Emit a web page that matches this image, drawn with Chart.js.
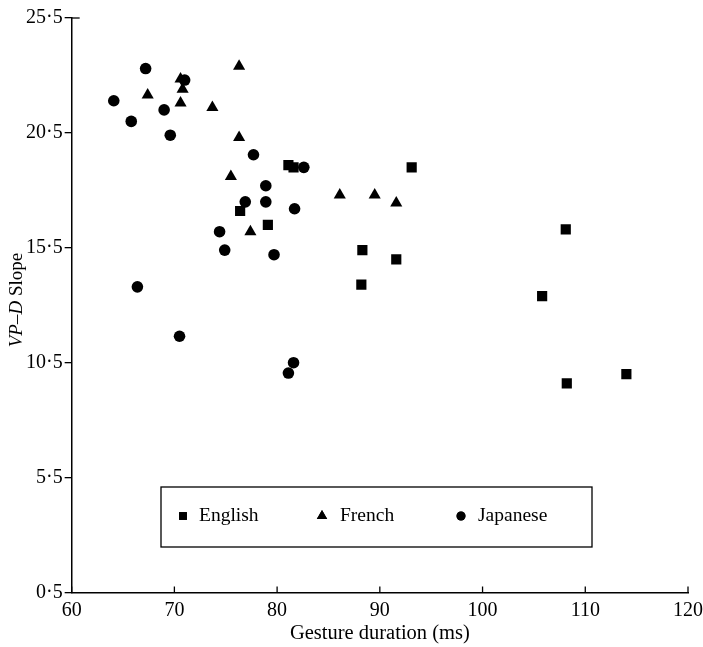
<!DOCTYPE html>
<html>
<head>
<meta charset="utf-8">
<script src="https://cdn.jsdelivr.net/npm/chart.js@4/dist/chart.umd.min.js"></script>
<style>
  body { margin: 0; background: #fff; }
  #wrap { width: 703px; height: 647px; position: relative; }
</style>
</head>
<body>
<div id="wrap"><canvas id="slopeChart"></canvas></div>
<script>
// values
const englishX = [76.4, 79.1, 81.1, 81.6, 93.1, 88.3, 91.6, 88.2, 105.8, 108.1, 108.2, 114.0];
const englishY = [17.1, 16.5, 19.1, 19.0, 19.0, 15.4, 15.0, 13.9, 13.4, 16.3, 9.6, 10.0];

const frenchX = [67.4, 70.6, 70.8, 70.6, 73.7, 76.3, 76.3, 75.5, 77.4, 86.1, 89.5, 91.6];
const frenchY = [22.15, 22.85, 22.4, 21.8, 21.6, 23.4, 20.3, 18.6, 16.2, 17.8, 17.8, 17.45];

const japaneseX = [64.1, 67.2, 65.8, 69.0, 69.6, 71.0, 77.7, 78.9, 76.9, 78.9, 81.7, 82.6, 74.4, 74.9, 79.7, 66.4, 70.5, 81.6, 81.1];
const japaneseY = [21.9, 23.3, 21.0, 21.5, 20.4, 22.8, 19.55, 18.2, 17.5, 17.5, 17.2, 19.0, 16.2, 15.4, 15.2, 13.8, 11.65, 10.5, 10.05];

const xTicks = [60, 70, 80, 90, 100, 110, 120];
const yTicks = [0.5, 5.5, 10.5, 15.5, 20.5, 25.5];

const serif = "'Liberation Serif', 'DejaVu Serif', serif";

function toPoints(xs, ys) {
    return xs.map((x, i) => ({ x: x, y: ys[i] }));
}

// inward x ticks, cap at top of y axis, y title with italic part, boxed legend
const figureExtras = {
    id: 'figureExtras',
    afterDraw(chart) {
        const ctx = chart.ctx;
        const area = chart.chartArea;
        const xs = chart.scales.x;
        ctx.save();
        ctx.strokeStyle = '#000';
        ctx.lineWidth = 1.3;
        xs.ticks.forEach(t => {
            const px = xs.getPixelForValue(t.value);
            ctx.beginPath();
            ctx.moveTo(px, area.bottom);
            ctx.lineTo(px, area.bottom - 6);
            ctx.stroke();
        });
        ctx.beginPath();
        ctx.moveTo(area.left, area.top);
        ctx.lineTo(area.left + 8, area.top);
        ctx.stroke();

        // y axis title: "VP–D" italic + " Slope"
        const part1 = 'VP\u2013D';
        const part2 = ' Slope';
        ctx.translate(17, 300);
        ctx.rotate(-Math.PI / 2);
        ctx.fillStyle = '#000';
        ctx.textBaseline = 'middle';
        ctx.font = 'italic 19px ' + serif;
        const w1 = ctx.measureText(part1).width;
        ctx.font = '19px ' + serif;
        const w2 = ctx.measureText(part2).width;
        let sx = -(w1 + w2) / 2;
        ctx.font = 'italic 19px ' + serif;
        ctx.textAlign = 'left';
        ctx.fillText(part1, sx, 0);
        ctx.font = '19px ' + serif;
        ctx.fillText(part2, sx + w1, 0);
        ctx.restore();

        // legend box
        ctx.save();
        ctx.strokeStyle = '#000';
        ctx.lineWidth = 1.3;
        ctx.strokeRect(161, 487, 431, 60);
        const items = [
            { style: 'rect', mx: 183, tx: 199, r: 5.5 },
            { style: 'triangle', mx: 322, tx: 340, r: 6 },
            { style: 'circle', mx: 461, tx: 478, r: 4.5 }
        ];
        ctx.font = '19.5px ' + serif;
        ctx.textBaseline = 'middle';
        ctx.textAlign = 'left';
        ctx.fillStyle = '#000';
        items.forEach((it, i) => {
            const ds = chart.data.datasets[i];
            Chart.helpers.drawPoint(ctx, { pointStyle: it.style, radius: it.r, borderWidth: 0 }, it.mx, 516);
            ctx.fill();
            ctx.fillText(ds.label, it.tx, 516);
        });
        ctx.restore();
    }
};

const markerBase = {
    showLine: false,
    backgroundColor: '#000',
    borderColor: '#000',
    borderWidth: 0,
    pointBorderWidth: 0
};

const ctx = document.getElementById('slopeChart').getContext('2d');
new Chart(ctx, {
    type: 'scatter',
    data: {
        datasets: [
            Object.assign({ label: 'English', data: toPoints(englishX, englishY), pointStyle: 'rect', pointRadius: 7.2 }, markerBase),
            Object.assign({ label: 'French', data: toPoints(frenchX, frenchY), pointStyle: 'triangle', pointRadius: 7 }, markerBase),
            Object.assign({ label: 'Japanese', data: toPoints(japaneseX, japaneseY), pointStyle: 'circle', pointRadius: 5.8 }, markerBase)
        ]
    },
    options: {
        responsive: true,
        maintainAspectRatio: false,
        animation: false,
        layout: { padding: { left: 24, right: 7, top: 18, bottom: 2 } },
        plugins: {
            legend: { display: false },
            tooltip: { enabled: false }
        },
        scales: {
            x: {
                type: 'linear',
                min: 60,
                max: 120,
                afterBuildTicks: axis => { axis.ticks = xTicks.map(v => ({ value: v })); },
                grid: { display: false },
                border: { color: '#000', width: 1.5 },
                ticks: { color: '#000', padding: 0, font: { family: serif, size: 20, lineHeight: 1 } },
                title: {
                    display: true,
                    text: 'Gesture duration (ms)',
                    color: '#000',
                    padding: { top: 3, bottom: 1 },
                    font: { family: serif, size: 20.5, lineHeight: 1 }
                }
            },
            y: {
                type: 'linear',
                min: 0.5,
                max: 25.5,
                afterBuildTicks: axis => { axis.ticks = yTicks.map(v => ({ value: v })); },
                grid: { drawOnChartArea: false, drawTicks: true, tickLength: 7, color: '#000', lineWidth: 1.3 },
                border: { color: '#000', width: 1.5 },
                ticks: {
                    color: '#000',
                    padding: 2,
                    font: { family: serif, size: 20 },
                    callback: v => v.toFixed(1).replace('.', '\u00B7')
                }
            }
        }
    },
    plugins: [figureExtras]
});
</script>
</body>
</html>
